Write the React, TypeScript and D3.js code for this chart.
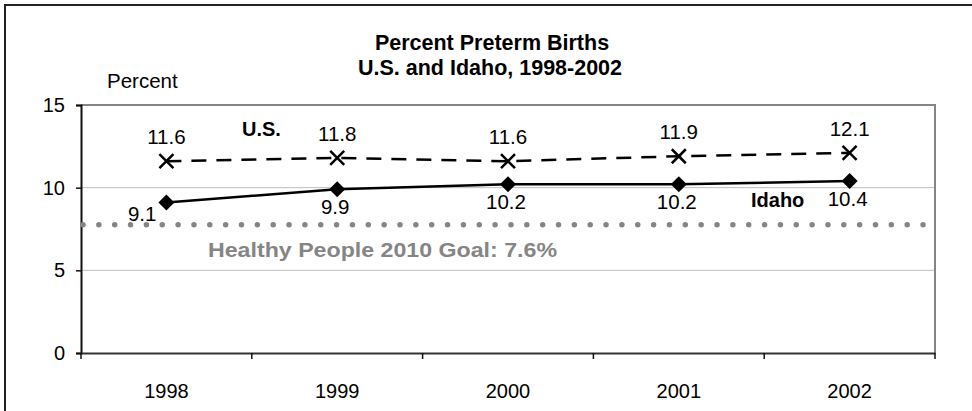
import React, { useEffect, useRef } from 'react';
import * as d3 from 'd3';

// chart values
const years = ['1998', '1999', '2000', '2001', '2002'];
const usValues = [11.6, 11.8, 11.6, 11.9, 12.1];
const idahoValues = [9.1, 9.9, 10.2, 10.2, 10.4];
const yTicks = [0, 5, 10, 15];
const goalValue = 7.6; // label value
const goalLineLevel = 7.75; // where the dotted line sits in the picture

const W = 972;
const H = 411;
const FONT = '"Liberation Sans", Arial, sans-serif';

const App = () => {
  const svgRef = useRef<SVGSVGElement>(null);

  useEffect(() => {
    const svg = d3.select(svgRef.current);
    svg.selectAll('*').remove();

    const margin = { top: 105, right: 37, bottom: 58, left: 81 };
    const x = d3
      .scaleBand()
      .domain(years)
      .range([margin.left, W - margin.right]);
    const y = d3
      .scaleLinear()
      .domain([0, 15])
      .range([H - margin.bottom, margin.top]);
    const cx = (d: string) => (x(d) as number) + x.bandwidth() / 2;

    svg.append('rect').attr('width', W).attr('height', H).attr('fill', '#fff');

    // outer frame (only left/top visible)
    svg
      .append('rect')
      .attr('x', 5)
      .attr('y', 5)
      .attr('width', W + 20)
      .attr('height', H + 20)
      .attr('fill', 'none')
      .attr('stroke', '#222')
      .attr('stroke-width', 2);

    // title
    const title = svg
      .append('text')
      .attr('font-family', FONT)
      .attr('font-weight', 'bold')
      .attr('font-size', 21.5)
      .attr('text-anchor', 'middle');
    title.append('tspan').attr('x', 492).attr('y', 50).text('Percent Preterm Births');
    title.append('tspan').attr('x', 490).attr('y', 75).text('U.S. and Idaho, 1998-2002');

    svg
      .append('text')
      .attr('x', 107)
      .attr('y', 88)
      .attr('font-family', FONT)
      .attr('font-size', 20.5)
      .text('Percent');

    // gridlines
    svg
      .append('g')
      .selectAll('line')
      .data(yTicks.filter((t) => t > 0 && t < 15))
      .join('line')
      .attr('x1', margin.left)
      .attr('x2', W - margin.right)
      .attr('y1', (d) => y(d))
      .attr('y2', (d) => y(d))
      .attr('stroke', '#bdbdbd')
      .attr('stroke-width', 1);

    // plot box top & right
    svg
      .append('path')
      .attr('d', `M${margin.left},${y(15)}H${W - margin.right}V${y(0)}`)
      .attr('fill', 'none')
      .attr('stroke', '#858585')
      .attr('stroke-width', 2);

    // y axis
    const yAxis = svg
      .append('g')
      .attr('transform', `translate(${margin.left},0)`)
      .call(d3.axisLeft(y).tickValues(yTicks).tickSize(5).tickPadding(11));
    yAxis.select('.domain').attr('stroke', '#111').attr('stroke-width', 2);
    yAxis.selectAll('.tick line').attr('stroke', '#111').attr('stroke-width', 1.5);
    yAxis
      .selectAll('.tick text')
      .attr('font-family', FONT)
      .attr('font-size', 20)
      .attr('fill', '#000');

    // x axis
    const xAxis = svg
      .append('g')
      .attr('transform', `translate(0,${y(0)})`)
      .call(d3.axisBottom(x).tickSize(0).tickPadding(31));
    xAxis.select('.domain').attr('stroke', '#333').attr('stroke-width', 2);
    xAxis
      .selectAll('.tick text')
      .attr('font-family', FONT)
      .attr('font-size', 20)
      .attr('fill', '#000');
    // category boundary ticks
    const bounds = [...years.map((d) => x(d) as number), W - margin.right];
    svg
      .append('g')
      .selectAll('line')
      .data(bounds)
      .join('line')
      .attr('x1', (d) => d)
      .attr('x2', (d) => d)
      .attr('y1', y(0))
      .attr('y2', y(0) + 6)
      .attr('stroke', '#111')
      .attr('stroke-width', 1.5);

    // goal dotted line
    svg
      .append('line')
      .attr('x1', margin.left + 2)
      .attr('x2', W - margin.right - 2)
      .attr('y1', y(goalLineLevel))
      .attr('y2', y(goalLineLevel))
      .attr('stroke', '#858585')
      .attr('stroke-width', 5.5)
      .attr('stroke-linecap', 'round')
      .attr('stroke-dasharray', '0 15.85');
    svg
      .append('text')
      .attr('x', 208)
      .attr('y', 257)
      .attr('font-family', FONT)
      .attr('font-weight', 'bold')
      .attr('font-size', 21)
      .attr('fill', '#858585')
      .attr('textLength', 349)
      .attr('lengthAdjust', 'spacingAndGlyphs')
      .text(`Healthy People 2010 Goal: ${goalValue}%`);

    const line = d3
      .line<number>()
      .x((_, i) => cx(years[i]))
      .y((d) => y(d));

    // U.S. dashed series
    svg
      .append('path')
      .datum(usValues)
      .attr('d', line)
      .attr('fill', 'none')
      .attr('stroke', '#000')
      .attr('stroke-width', 2.5)
      .attr('stroke-dasharray', '15 10');
    svg
      .append('g')
      .selectAll('path')
      .data(usValues)
      .join('path')
      .attr('transform', (d, i) => `translate(${cx(years[i])},${y(d)})`)
      .attr('d', 'M-7,-7L7,7M-7,7L7,-7')
      .attr('stroke', '#000')
      .attr('stroke-width', 2.5);
    svg
      .append('g')
      .selectAll('text')
      .data(usValues)
      .join('text')
      .attr('x', (d, i) => cx(years[i]))
      .attr('y', (d) => y(d) - 17)
      .attr('text-anchor', 'middle')
      .attr('font-family', FONT)
      .attr('font-size', 20.5)
      .text((d) => d.toFixed(1));

    // Idaho solid series
    svg
      .append('path')
      .datum(idahoValues)
      .attr('d', line)
      .attr('fill', 'none')
      .attr('stroke', '#000')
      .attr('stroke-width', 2.5);
    svg
      .append('g')
      .selectAll('path')
      .data(idahoValues)
      .join('path')
      .attr('transform', (d, i) => `translate(${cx(years[i])},${y(d)})`)
      .attr('d', 'M0,-8L8,0L0,8L-8,0Z')
      .attr('fill', '#000');
    svg
      .append('g')
      .selectAll('text')
      .data(idahoValues)
      .join('text')
      .attr('x', (d, i) => cx(years[i]) - (i === 0 ? 10 : 2))
      .attr('y', (d, i) => y(d) + (i === 0 ? 18 : 25))
      .attr('text-anchor', (d, i) => (i === 0 ? 'end' : 'middle'))
      .attr('font-family', FONT)
      .attr('font-size', 20.5)
      .text((d) => d.toFixed(1));

    // series names
    svg
      .append('text')
      .attr('x', 242)
      .attr('y', 136)
      .attr('font-family', FONT)
      .attr('font-weight', 'bold')
      .attr('font-size', 20)
      .text('U.S.');
    svg
      .append('text')
      .attr('x', 751)
      .attr('y', 207)
      .attr('font-family', FONT)
      .attr('font-weight', 'bold')
      .attr('font-size', 20)
      .text('Idaho');
  }, []);

  return (
    <svg
      ref={svgRef}
      width={W}
      height={H}
      style={{ position: 'absolute', left: 0, top: 0 }}
    />
  );
};

export default App;
